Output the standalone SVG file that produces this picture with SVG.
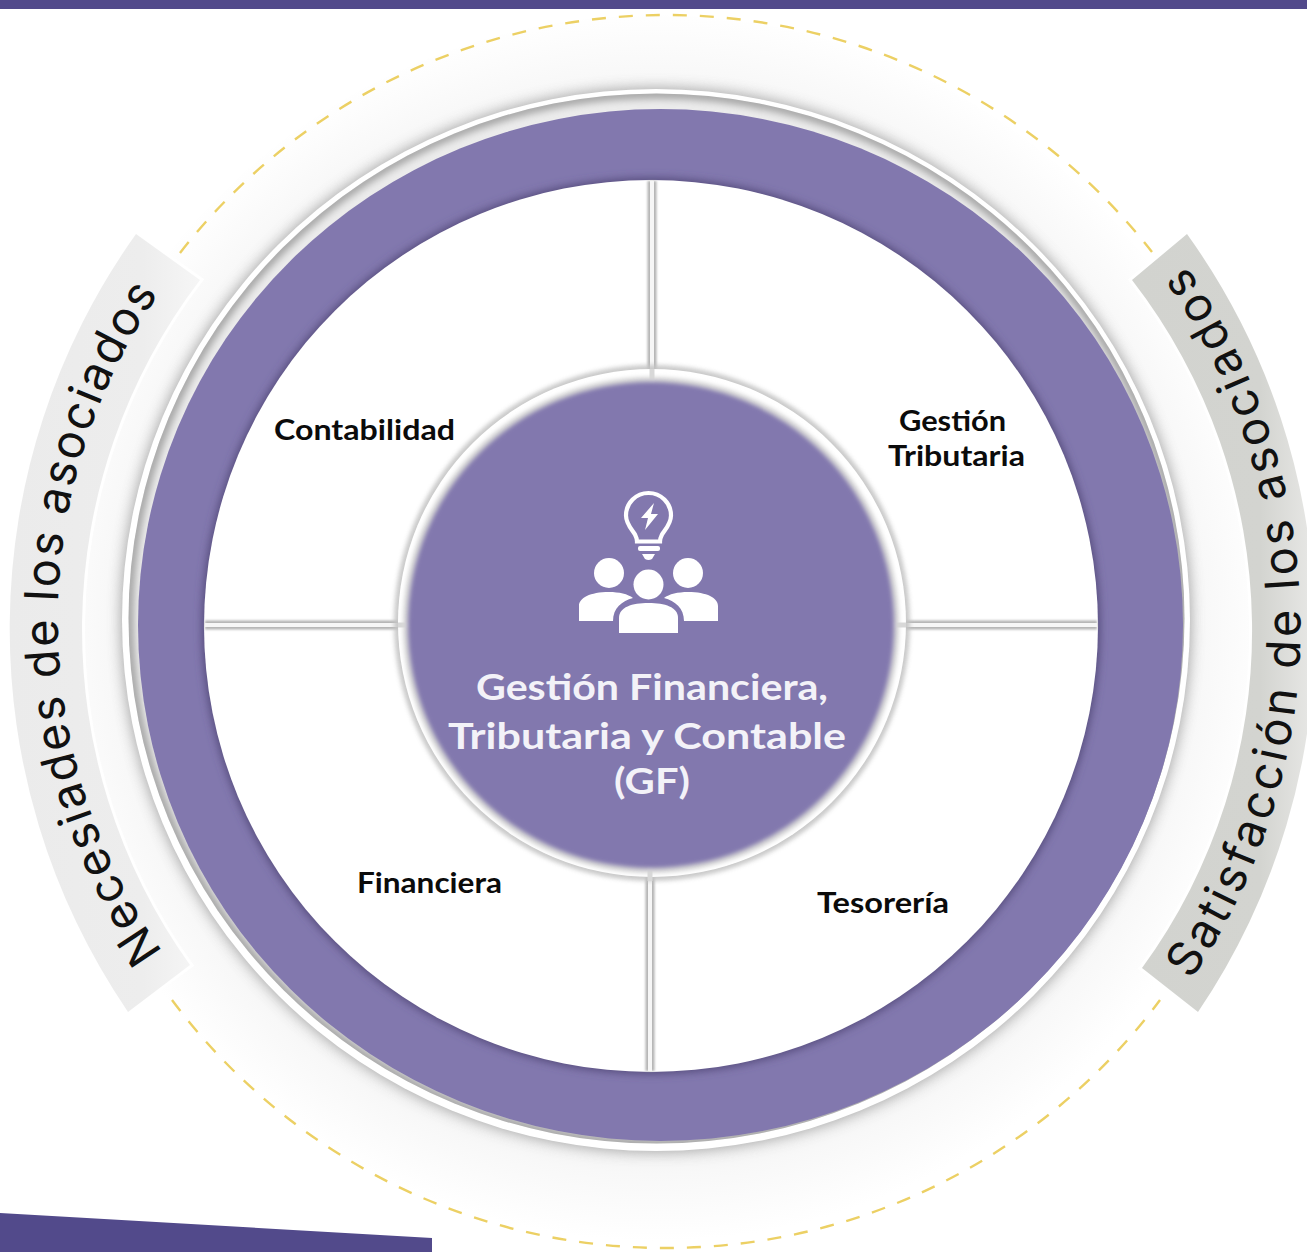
<svg xmlns="http://www.w3.org/2000/svg" width="1307" height="1252" viewBox="0 0 1307 1252">
<style>
.lbl{font-family:"Lato","Liberation Sans",sans-serif;font-weight:700;font-size:29px;fill:#0b0b0b}
.ctr{font-family:"Lato","Liberation Sans",sans-serif;font-weight:700;font-size:37px;fill:#f3f2f8;text-anchor:start}
.arc{font-family:"Inter","Liberation Sans",sans-serif;font-weight:400;font-size:47px;fill:#111}
.ico{fill:#fff}
.band{stroke:#fff;stroke-width:6;paint-order:stroke}
</style>
<defs>
<radialGradient id="halo" gradientUnits="userSpaceOnUse" cx="655" cy="625" r="616">
<stop offset="0.84" stop-color="#f0f0f0"/><stop offset="0.89" stop-color="#f8f8f8"/><stop offset="1" stop-color="#ffffff"/>
</radialGradient>
<linearGradient id="bandL" x1="0" x2="1" y1="0" y2="0"><stop offset="0" stop-color="#ebebeb"/><stop offset="0.7" stop-color="#ededed"/><stop offset="1" stop-color="#f6f6f6"/></linearGradient>
<linearGradient id="bandR" x1="0" x2="1" y1="0" y2="0"><stop offset="0" stop-color="#d2d3cf"/><stop offset="0.7" stop-color="#d3d4d0"/><stop offset="1" stop-color="#e8e8e6"/></linearGradient>
<filter id="b8" x="-10%" y="-10%" width="120%" height="120%"><feGaussianBlur stdDeviation="7"/></filter>
<filter id="b4" x="-10%" y="-10%" width="120%" height="120%"><feGaussianBlur stdDeviation="4"/></filter>
<filter id="b2" x="-10%" y="-10%" width="120%" height="120%"><feGaussianBlur stdDeviation="2.2"/></filter>
<filter id="b1" x="-20%" y="-20%" width="140%" height="140%"><feGaussianBlur stdDeviation="1.2"/></filter>
<clipPath id="gap"><ellipse cx="656.5" cy="618.5" rx="528" ry="525"/></clipPath>
<path id="pL" d="M163,952 A577,577 0 0 1 170,278"/>
<path id="pR" d="M1191,980 A625,625 0 0 0 1183,262"/>
</defs>
<rect width="1307" height="1252" fill="#ffffff"/>
<rect id="top-bar" x="0" y="0" width="1307" height="9" fill="#524a8b"/>
<polygon id="bottom-bar" points="0,1213 432,1238 432,1252 0,1252" fill="#524a8b"/>

<g id="outer-halo">
<circle cx="655" cy="631" r="616" fill="url(#halo)"/>
<path d="M180,253 A616,616 0 0 1 1152,252" fill="none" stroke="#ecd064" stroke-width="2.4" stroke-dasharray="14 13"/>
<path d="M172,1000 A616,616 0 0 0 1160,1000" fill="none" stroke="#ecd064" stroke-width="2.4" stroke-dasharray="14 13"/>
</g>

<g id="band-left">
<path class="band" d="M136,234 A680,680 0 0 0 128,1012 L190,965 A576,576 0 0 1 200,280 Z" fill="url(#bandL)"/>
<text class="arc"><textPath href="#pL" textLength="700" lengthAdjust="spacing">Necesiades de los asociados</textPath></text>
</g>
<g id="band-right">
<path class="band" d="M1187,234 A680,680 0 0 1 1198,1012 L1142,968 A572,572 0 0 0 1132,280 Z" fill="url(#bandR)"/>
<text class="arc"><textPath href="#pR" textLength="760" lengthAdjust="spacing">Satisfacción de los asociados</textPath></text>
</g>

<g id="ring">
<ellipse cx="656" cy="620" rx="535" ry="532" fill="#8c8c8c" filter="url(#b8)" opacity="0.75"/>
<ellipse cx="656" cy="620" rx="534" ry="531" fill="#ffffff"/>
<ellipse cx="656.5" cy="618.5" rx="528" ry="525" fill="#ececec"/>
<g clip-path="url(#gap)"><ellipse cx="656.5" cy="618.5" rx="528" ry="525" fill="none" stroke="#8f8f8f" stroke-width="8" filter="url(#b4)"/></g>
<ellipse cx="660.5" cy="625" rx="522.5" ry="516" fill="#8278ae"/>
<ellipse cx="651" cy="626" rx="449" ry="448" fill="#544c7c" filter="url(#b4)"/>
<ellipse cx="651" cy="626" rx="447" ry="446" fill="#ffffff"/>
</g>

<g id="connectors">
<g fill="none" stroke="#b4b4b4" stroke-width="9" filter="url(#b1)">
<path d="M652,181V385"/><path d="M650,865V1071"/><path d="M205,625H405"/><path d="M900,625H1097"/>
</g>
<g fill="none" stroke="#f6f6f6" stroke-width="4">
<path d="M652,181V385"/><path d="M650,865V1071"/><path d="M205,625H405"/><path d="M900,625H1097"/>
</g>
</g>

<g id="node-center">
<circle cx="652" cy="623" r="258" fill="#c4c4c4" filter="url(#b2)" opacity="0.9"/>
<circle cx="652" cy="623" r="254" fill="#ffffff"/>
<circle cx="651" cy="625" r="248" fill="#d4d4d4" filter="url(#b2)"/>
<g stroke="#d8d8d8" stroke-width="5" fill="none">
<path d="M652,369V384"/><path d="M650,866V881"/><path d="M398,625H410"/><path d="M892,625H906"/>
</g>
<circle cx="651" cy="625" r="243" fill="#8278ae" filter="url(#b2)"/>
<g id="icon">
<path d="M648.5,493 a22.500,22.500 0 0 1 22.500,22.500 c0,8 -5,13 -9,19 c-1,2 -2,5 -2,7 h-23 c0,-2 -1,-5 -2,-7 c-4,-6 -9,-11 -9,-19 a22.500,22.500 0 0 1 22.500,-22.500 Z" fill="none" stroke="#fff" stroke-width="4.2"/>
<polygon class="ico" points="654,503 641,518 648,518 645,530 658,514 651,514"/>
<rect class="ico" x="638" y="546" width="22" height="5" rx="2"/>
<path class="ico" d="M642,554 H655 L652,559 Q648.5,561 645,559 Z"/>
<circle class="ico" cx="609" cy="573" r="15"/>
<circle class="ico" cx="688" cy="573" r="15"/>
<circle class="ico" cx="648.5" cy="584.5" r="15"/>
<path class="ico" d="M579,621 V606 C579,598 590,592 609,592 C619,592 628,594 633,598 C622,601 613,608 613,621 Z"/>
<path class="ico" d="M718,621 V606 C718,598 707,592 688,592 C678,592 669,594 664,598 C675,601 684,608 684,621 Z"/>
<path class="ico" d="M619,633 V618 C619,607 632,603 648.5,603 C665,603 678,607 678,618 V633 Z"/>
</g>
<text class="ctr" x="476" y="700" textLength="352" lengthAdjust="spacingAndGlyphs">Gestión Financiera,</text>
<text class="ctr" x="448" y="749" textLength="398" lengthAdjust="spacingAndGlyphs">Tributaria y Contable</text>
<text class="ctr" x="614" y="794" textLength="76" lengthAdjust="spacingAndGlyphs">(GF)</text>
</g>

<g id="node-contabilidad"><text class="lbl" x="274" y="440" textLength="181" lengthAdjust="spacingAndGlyphs">Contabilidad</text></g>
<g id="node-tributaria">
<text class="lbl" x="899" y="431" textLength="107" lengthAdjust="spacingAndGlyphs">Gestión</text>
<text class="lbl" x="888" y="466" textLength="137" lengthAdjust="spacingAndGlyphs">Tributaria</text>
</g>
<g id="node-financiera"><text class="lbl" x="357" y="893" textLength="145" lengthAdjust="spacingAndGlyphs">Financiera</text></g>
<g id="node-tesoreria"><text class="lbl" x="817" y="913" textLength="132" lengthAdjust="spacingAndGlyphs">Tesorería</text></g>
</svg>
